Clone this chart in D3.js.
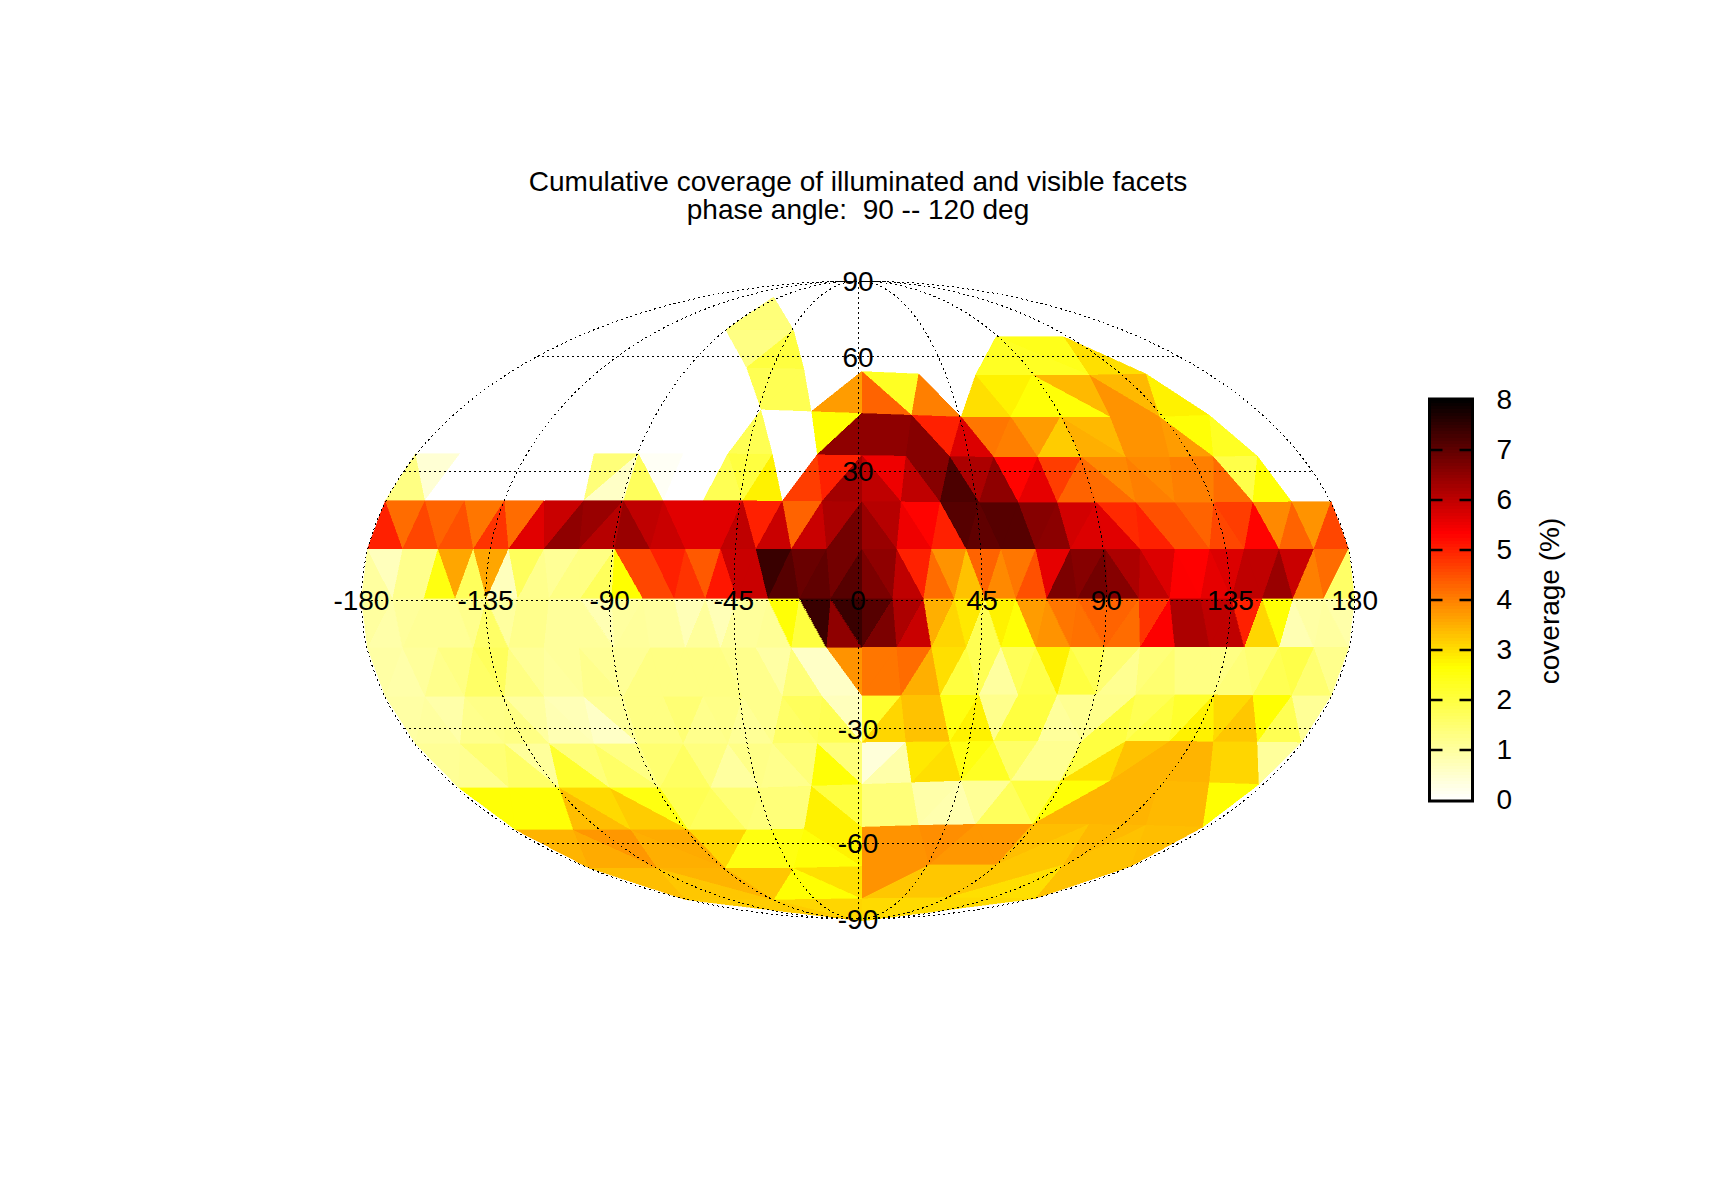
<!DOCTYPE html>
<html>
<head>
<meta charset="utf-8">
<style>
  body { margin: 0; background: #fff; }
  text { font-family: "Liberation Sans", sans-serif; fill: #000; white-space: pre; }
</style>
</head>
<body>
<svg width="1716" height="1200"></svg>
<script src="https://d3js.org/d3.v7.min.js"></script>
<script>
// coverage per facet, band by band from the equator to the pole,
// each band runs west to east through the four octants
var north0 = [1,.7,1.2,1.2,2.5,3.6,1.7,3.6,.7,1.7,1.2,1.1,1.3,1.3,1.7,
  2.67,4.6,4.6,5,4.8,4.4,5.1,5.9,5.9,7.4,7.1,6.9,7,6.8,7.1,
  6.7,6.5,6,5,4.2,3.8,3.3,4.3,3.9,4.1,4.5,5.6,6.7,6.6,6.8,
  6.6,6.2,6,5.7,5.35,5.33,5.6,5.7,6,6,6.4,5.9,4,4.2,1.6];
var north1 = [5,4.2,4.6,4.3,4.5,4.1,4.8,4.2,5.65,5.9,6.5,6.4,6.1,
  6.4,6,5.9,5.65,5.65,5.65,6,5,5.9,4.3,5.9,6.2,6.8,
  6.4,6.1,5.5,5.3,5,7.1,7,7.1,7.1,6.6,6.55,5.8,5.7,
  5.65,4.9,5,4.5,4.5,4.3,4.6,4.7,5.3,3.9,4.3,3.8,4.6];
var north2 = [1.3,.45,0,0,0,0,0,0,0,1.4,.6,
  1.7,.1,0,0,1.8,2,2.8,0,4.7,5,6.3,
  6,5.5,6,6.6,7.2,6.2,6.5,5.3,5.6,4.7,4.3,
  4.2,3.9,4,3.9,4,4,4.2,1.9,2.6,0,0];
var north3 = [0,0,0,0,0,0,0,0,0,
  0,0,0,0,1.8,0,0,2.65,6.5,
  6.5,6.5,6.6,5,5.7,4.1,4,3.7,3.2,
  3.5,3.4,3.8,3.8,3.7,2.6,2.3,0,0];
var north4 = [0,0,0,0,0,0,0,
  0,0,0,1.8,1.8,0,3.7,
  4.3,2.3,4,0,3,2.8,2.6,
  2.6,3.4,3.8,3.4,2.8,0,0];
var north5 = [0,0,0,0,0,
  0,1.3,2,0,0,
  0,0,0,0,2.3,
  2.3,2.4,3,0,0];
var north6 = [0,0,0, 1.4,0,0, 0,0,0, 0,0,0];
var north7 = [0,0,0,0];

var south0 = [1,.9,1.05,1.1,1.1,1.1,1.2,1.6,1,1.2,1.2,1.05,1.05,1.05,.8,
  1,1.05,1,1,.75,1.05,.75,1.05,1.05,1.1,2.6,2,7.4,6.5,7.4,
  7.1,6.7,6.2,5.9,3.5,3.1,2.9,1.8,2.8,2.6,3.7,3.8,4.1,4.15,4.3,
  4.3,4.2,4.8,5.35,6.2,6.2,6,6,5,3.1,2.6,.8,.95,1,.9];
var south1 = [.95,.9,1.05,1.2,1.3,1.6,1.7,1.3,1.1,1,1.05,1.2,1.1,
  1.1,1.3,1.3,1.3,1.3,1.3,1.2,1.2,.95,1.4,.6,.6,3.8,
  4.1,4.1,4.2,3.5,3,2,1.8,1,1.75,1.9,2.8,2,1.8,
  1.5,1.15,1.4,1.5,1.3,1.3,1.3,1.4,1.5,1.8,1.9,1.5,1.2];
var south2 = [.95,1,.9,1.2,1.25,1.3,1,.8,.75,.6,1.1,
  1.3,1.3,1.45,1.2,1.25,1.1,1.2,1.6,1.7,1.8,.7,
  2.2,3.1,3.3,3.3,2.5,2.8,1.2,2,2,1.05,1.15,
  1.2,2,1.8,2,2.2,2.8,3.05,3.25,2.65,1.8,1.1];
var south3 = [1.1,1.15,1.45,1.6,1.05,2.2,1.4,1.6,1.3,
  1.5,1.65,1.35,1,1.25,1.2,1.4,2.6,1.4,
  .4,.9,2.9,3,2.5,2.3,1.6,1.15,1.15,
  2,3,3.3,3.45,3.45,3.45,3.1,3.1,1.05];
var south4 = [2.6,2.6,2.6,3.35,3.05,3.2,2.5,
  1.8,1.7,1.45,1.4,1.4,2.8,2,
  1.4,1.4,.9,.85,1.1,1.7,2,
  2.6,3.45,3.45,3.45,3.4,3.4,2.65];
var south5 = [3.45,3.55,3.75,3.5,3.55,
  3.1,2.5,2.5,2.6,2.8,
  3.8,3.8,3.85,3.75,3.75,
  3.35,3.25,3.4,3.3,3.35];
var south6 = [3.35,3.25,3.45, 3.25,2.65,3, 3.8,3.25,3.25, 3.25,3,3.3];
var south7 = [3.2,3.1,3.05,3.05];

var lonTicks = [-180,-135,-90,-45,0,45,90,135,180];
var latTicks = [-90,-60,-30,30,60,90];
var gridLats = [-60,-30,0,30,60];
var colorTicks = [0,1,2,3,4,5,6,7,8];
var titleLines = ["Cumulative coverage of illuminated and visible facets",
                  "phase angle:  90 -- 120 deg"];

var svg = d3.select("svg");

// mollweide in unit coords, x and y both -1..1
function molly(lon, lat) {
  var phi = lat * Math.PI / 180, t = phi;
  if (Math.abs(lat) == 90) return [0, lat > 0 ? 1 : -1];
  for (var i = 0; i < 30; i++) {
    t = t - (2 * t + Math.sin(2 * t) - Math.PI * Math.sin(phi)) / (2 + 2 * Math.cos(2 * t));
  }
  return [lon / 180 * Math.cos(t), Math.sin(t)];
}

var x = d3.scaleLinear().domain([-1, 1]).range([361.4, 1354.6]);
var y = d3.scaleLinear().domain([-1, 1]).range([919, 281]);
// the facets sit a little off the grid in the reference
var meshX = d3.scaleLinear().domain([-1, 0, 1]).range([361.4, 862, 1354.6]);
var meshY = d3.scaleLinear().domain([-1, 1]).range([921, 276]);

// rows also sag toward the equator on the eastern side, px per row
var sagNorth = [0, 0, 2, 4, 9, 9, 8, 0, 0];
var sagSouth = [0, 1, 2, 3, 8.5, 7, 4, 3, 0];
var sagWeight = d3.scaleLinear().domain([-180, -45, 45, 135, 180]).range([0.2, 0.2, 1, 1, 0.6]);

var color = d3.scaleLinear()
  .domain([0, 8 / 3, 16 / 3, 8])
  .range(["#ffffff", "#ffff00", "#ff0000", "#000000"])
  .clamp(true);

// build the subdivided octahedron, 8 rows per octant
var rows = 8;
function vertex(sign, oct, k, j) {
  var lon = k == rows ? 0 : -180 + 90 * oct + 90 * j / (rows - k);
  var p = molly(lon, sign * 90 * k / rows);
  var sag = sign > 0 ? sagNorth[k] : -sagSouth[k];
  return [meshX(p[0]), meshY(p[1]) + sag * sagWeight(lon)];
}

var facets = [];
function addBands(bands, sign) {
  bands.forEach(function(band, k) {
    var n = rows - k, m = 0;
    d3.range(4).forEach(function(oct) {
      d3.range(2 * n - 1).forEach(function(i) {
        var j = Math.floor(i / 2);
        var pts = i % 2 == 0
          ? [vertex(sign, oct, k, j), vertex(sign, oct, k, j + 1), vertex(sign, oct, k + 1, j)]
          : [vertex(sign, oct, k + 1, j), vertex(sign, oct, k + 1, j + 1), vertex(sign, oct, k, j + 1)];
        facets.push({pts: pts, v: band[m++]});
      });
    });
  });
}
addBands([north0, north1, north2, north3, north4, north5, north6, north7], 1);
addBands([south0, south1, south2, south3, south4, south5, south6, south7], -1);

svg.append("g").selectAll("path")
  .data(facets)
  .enter().append("path")
  .attr("d", function(d) { return "M" + d.pts.join("L") + "Z"; })
  .attr("fill", function(d) { return color(d.v); })
  .attr("stroke", function(d) { return color(d.v); })
  .attr("stroke-width", 0.4)
  .attr("shape-rendering", "crispEdges");

// grid
var grid = svg.append("g")
  .attr("fill", "none")
  .attr("stroke", "#000")
  .attr("stroke-width", 1)
  .attr("stroke-dasharray", "2,3")
  .attr("shape-rendering", "crispEdges");

var line = d3.line()
  .x(function(d) { return x(d[0]); })
  .y(function(d) { return y(d[1]); });

lonTicks.forEach(function(lon) {
  grid.append("path").attr("d", line(d3.range(-90, 90.5, 1).map(function(lat) { return molly(lon, lat); })));
});
gridLats.forEach(function(lat) {
  grid.append("path").attr("d", line([molly(-180, lat), molly(180, lat)]));
});

// tick labels
var labelSize = "28px";
svg.append("g").selectAll("text")
  .data(lonTicks)
  .enter().append("text")
  .attr("x", function(d) { return x(molly(d, 0)[0]); })
  .attr("y", y(0))
  .attr("dy", "0.35em")
  .attr("text-anchor", "middle")
  .style("font-size", labelSize)
  .text(function(d) { return d; });

svg.append("g").selectAll("text")
  .data(latTicks)
  .enter().append("text")
  .attr("x", x(0))
  .attr("y", function(d) { return y(molly(0, d)[1]); })
  .attr("dy", "0.35em")
  .attr("text-anchor", "middle")
  .style("font-size", labelSize)
  .text(function(d) { return d; });

// title
svg.append("g").selectAll("text")
  .data(titleLines)
  .enter().append("text")
  .attr("x", 858)
  .attr("y", function(d, i) { return 191 + i * 28; })
  .attr("text-anchor", "middle")
  .style("font-size", labelSize)
  .text(function(d) { return d; });

// colorbar
var barX = 1429.5, barW = 43;
var z = d3.scaleLinear().domain([0, 8]).range([800, 400]);

svg.append("g").attr("shape-rendering", "crispEdges").selectAll("rect")
  .data(d3.range(0, 8, 0.0625))
  .enter().append("rect")
  .attr("x", barX)
  .attr("width", barW)
  .attr("y", function(d) { return z(d + 0.0625); })
  .attr("height", z(0) - z(0.0625))
  .attr("fill", function(d) { return color(d + 0.03); });

var barTicks = svg.append("g").attr("stroke", "#000").attr("stroke-width", 2.5);
d3.range(1, 8).forEach(function(v) {
  barTicks.append("line").attr("x1", barX).attr("x2", barX + 13).attr("y1", z(v)).attr("y2", z(v));
  barTicks.append("line").attr("x1", barX + barW - 13).attr("x2", barX + barW).attr("y1", z(v)).attr("y2", z(v));
});

svg.append("rect")
  .attr("x", barX)
  .attr("y", z(8) - 1)
  .attr("width", barW)
  .attr("height", z(0) - z(8) + 2)
  .attr("fill", "none")
  .attr("stroke", "#000")
  .attr("stroke-width", 3);

var axis = d3.axisRight(z).tickValues(colorTicks).tickSize(0).tickPadding(24);
var axisG = svg.append("g")
  .attr("transform", "translate(" + (barX + barW) + ",0)")
  .call(axis);
axisG.select(".domain").remove();
axisG.selectAll("text").style("font-size", labelSize).style("font-family", '"Liberation Sans", sans-serif');

svg.append("text")
  .attr("transform", "translate(1559,601) rotate(-90)")
  .attr("text-anchor", "middle")
  .style("font-size", labelSize)
  .text("coverage (%)");
</script>
</body>
</html>
